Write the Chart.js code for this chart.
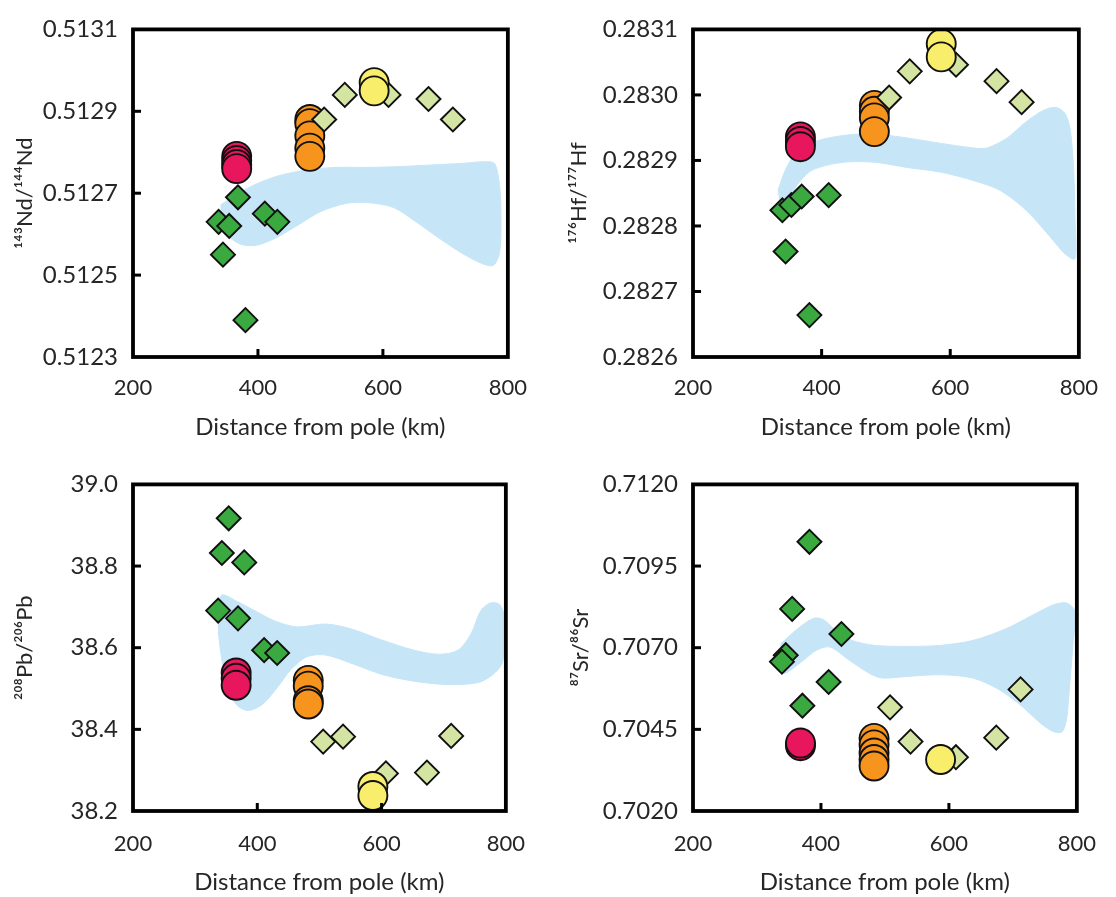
<!DOCTYPE html>
<html><head><meta charset="utf-8">
<script src="https://cdn.jsdelivr.net/npm/chart.js@4.4.0/dist/chart.umd.min.js"></script>
<style>
html,body{margin:0;padding:0;background:#fff;width:1116px;height:897px;overflow:hidden;}
.p{position:absolute;}
</style></head><body>
<div class="p" style="left:0;top:0;"><canvas id="c1" width="545" height="445"></canvas></div>
<div class="p" style="left:560px;top:0;"><canvas id="c2" width="556" height="445"></canvas></div>
<div class="p" style="left:0;top:455px;"><canvas id="c3" width="545" height="442"></canvas></div>
<div class="p" style="left:560px;top:455px;"><canvas id="c4" width="556" height="442"></canvas></div>
<script>
// ---------- shared ----------
const X_TICKS = [200, 400, 600, 800];
const X_TITLE = 'Distance from pole (km)';

// ---------- Nd panel ----------
const ND_TICKS = [0.5123, 0.5125, 0.5127, 0.5129, 0.5131];
const ND_TITLE = '¹⁴³Nd/¹⁴⁴Nd';
const ndDarkX = [337, 354, 368, 344, 411, 431, 380];
const ndDarkY = [0.51263, 0.51262, 0.51269, 0.51255, 0.51265, 0.51263, 0.51239];
const ndLightX = [506, 539, 609, 673, 712];
const ndLightY = [0.51288, 0.51294, 0.51294, 0.51293, 0.51288];
const ndRedX = [366, 366, 366, 366];
const ndRedY = [0.51279, 0.51278, 0.51277, 0.51276];
const ndOrangeX = [483, 483, 483, 483, 483];
const ndOrangeY = [0.51288, 0.51287, 0.51284, 0.51281, 0.51279];
const ndYellowX = [586, 586];
const ndYellowY = [0.51297, 0.51295];
const ndBandX = [340,368,398,434,480,525,576,627,678,728,764,779,787,789,787,777,759,728,693,652,617,576,541,500,465,429,398,373,353,340];
const ndBandY = [0.512671,0.512699,0.512723,0.512743,0.512757,0.512763,0.512763,0.512765,0.512769,0.512773,0.512777,0.512772,0.512715,0.512635,0.512556,0.512524,0.512528,0.512552,0.512587,0.512631,0.512665,0.512677,0.512675,0.512655,0.512623,0.512591,0.512573,0.512575,0.512595,0.512627];

// ---------- Hf panel ----------
const HF_TICKS = [0.2826, 0.2827, 0.2828, 0.2829, 0.2830, 0.2831];
const HF_TITLE = '¹⁷⁶Hf/¹⁷⁷Hf';
const hfDarkX = [339, 353, 369, 411, 344, 381];
const hfDarkY = [0.282824, 0.282832, 0.282845, 0.282847, 0.282761, 0.282664];
const hfLightX = [505, 537, 609, 672, 711];
const hfLightY = [0.282996, 0.283036, 0.283046, 0.283021, 0.282989];
const hfRedX = [367, 367, 367];
const hfRedY = [0.282936, 0.282929, 0.282921];
const hfOrangeX = [482, 482, 482, 482];
const hfOrangeY = [0.282984, 0.282975, 0.282965, 0.282944];
const hfYellowX = [586, 586];
const hfYellowY = [0.283078, 0.283058];
const hfBandX = [332,343,358,383,414,454,495,535,586,637,657,688,718,744,764,779,787,792,794,794,779,754,718,678,637,586,535,485,444,414,383,363,348,335];
const hfBandY = [0.282854,0.282884,0.282909,0.282926,0.282935,0.28294,0.282939,0.282934,0.282926,0.282919,0.282919,0.282934,0.282959,0.282976,0.282981,0.282971,0.282944,0.282884,0.282809,0.28275,0.282757,0.282785,0.282824,0.282854,0.282869,0.282882,0.282889,0.282897,0.282898,0.282894,0.282884,0.282864,0.282839,0.282829];

// ---------- Pb panel ----------
const PB_TICKS = [38.2, 38.4, 38.6, 38.8, 39.0];
const PB_TITLE = '²⁰⁸Pb/²⁰⁶Pb';
const pbDarkX = [354, 343, 379, 337, 369, 411, 432];
const pbDarkY = [38.917, 38.832, 38.809, 38.691, 38.672, 38.594, 38.587];
const pbLightX = [506, 538, 607, 673, 712];
const pbLightY = [38.370, 38.382, 38.292, 38.294, 38.384];
const pbRedX = [366, 366, 366];
const pbRedY = [38.538, 38.525, 38.508];
const pbOrangeX = [482, 482, 482, 482];
const pbOrangeY = [38.520, 38.506, 38.470, 38.462];
const pbYellowX = [586, 586];
const pbYellowY = [38.260, 38.238];
const pbBandX = [335,343,368,398,429,464,510,551,602,652,693,723,744,759,774,789,797,798,794,779,754,703,652,602,551,510,480,454,434,409,386,368,353,343,337];
const pbBandY = [38.689,38.729,38.713,38.689,38.665,38.651,38.658,38.646,38.618,38.594,38.584,38.594,38.634,38.689,38.709,38.707,38.681,38.61,38.562,38.534,38.514,38.51,38.518,38.534,38.562,38.582,38.578,38.546,38.506,38.462,38.446,38.458,38.498,38.57,38.64];

// ---------- Sr panel ----------
const SR_TICKS = [0.7020, 0.7045, 0.7070, 0.7095, 0.7120];
const SR_TITLE = '⁸⁷Sr/⁸⁶Sr';
const srDarkX = [382, 355, 432, 345, 339, 412, 371];
const srDarkY = [0.710243, 0.708188, 0.70742, 0.70677, 0.70657, 0.70595, 0.705224];
const srLightX = [508, 540, 611, 674, 712];
const srLightY = [0.705174, 0.704126, 0.703647, 0.704246, 0.705722];
const srRedX = [368, 368];
const srRedY = [0.70400, 0.70408];
const srOrangeX = [483, 483, 483, 483, 483];
const srOrangeY = [0.704225, 0.704026, 0.703776, 0.703577, 0.703377];
const srYellowX = [587];
const srYellowY = [0.703577];
const srBandX = [337,363,388,403,424,449,485,535,586,637,688,728,764,784,797,794,789,784,777,764,744,713,678,637,586,535,495,475,444,414,393,373,353,343,335];
const srBandY = [0.70712,0.707569,0.707898,0.707868,0.707519,0.70722,0.70707,0.70704,0.70707,0.70722,0.707569,0.707968,0.708317,0.708367,0.708118,0.70712,0.705922,0.704824,0.704425,0.704425,0.704675,0.705224,0.705722,0.706072,0.706171,0.706122,0.706072,0.706222,0.70662,0.70702,0.70692,0.70662,0.70632,0.706222,0.70647];

// ---------- drawing ----------
const FONT = "Lato, 'DejaVu Sans', sans-serif";
const TXT = '#262626';
const pts = (xs, ys) => xs.map((x, i) => ({x: x, y: ys[i]}));

const framePlugin = {
  id: 'frame',
  afterDatasetsDraw(chart) {
    const {ctx, chartArea: a, scales} = chart;
    const x = scales.x, y = scales.y;
    ctx.save();
    ctx.strokeStyle = '#000';
    ctx.lineWidth = 3;
    y.ticks.forEach(t => {
      const py = y.getPixelForValue(t.value);
      if (py > a.top + 3 && py < a.bottom - 3) {
        ctx.beginPath(); ctx.moveTo(a.left, py); ctx.lineTo(a.left + 8, py); ctx.stroke();
      }
    });
    x.ticks.forEach(t => {
      const px = x.getPixelForValue(t.value);
      if (px > a.left + 3 && px < a.right - 3) {
        ctx.beginPath(); ctx.moveTo(px, a.bottom); ctx.lineTo(px, a.bottom - 8); ctx.stroke();
      }
    });
    ctx.lineWidth = 3.8;
    ctx.strokeRect(a.left, a.top, a.right - a.left, a.bottom - a.top);
    ctx.restore();
  }
};

function scatterSet(label, xs, ys, style, radius, color, order) {
  return {
    label: label, data: pts(xs, ys), pointStyle: style, pointRadius: radius,
    pointHoverRadius: radius, backgroundColor: color, borderColor: '#111',
    borderWidth: 1.9, order: order
  };
}

function makePanel(id, o) {
  new Chart(document.getElementById(id), {
    type: 'scatter',
    data: {
      datasets: [
        {label: 'band', data: pts(o.bandX, o.bandY), showLine: true, fill: 'shape',
         backgroundColor: '#c6e6f8', borderColor: '#c6e6f8', borderWidth: 1,
         pointRadius: 0, pointHoverRadius: 0, tension: 0.3, order: 10},
        scatterSet('dark', o.darkX, o.darkY, 'rectRot', 12, '#3aaa40', 5),
        scatterSet('red', o.redX, o.redY, 'circle', 14.5, '#e8175d', 4),
        scatterSet('orange', o.orangeX, o.orangeY, 'circle', 14.5, '#f7941d', 3),
        scatterSet('light', o.lightX, o.lightY, 'rectRot', 12, '#d4e4a2', 2),
        scatterSet('yellow', o.yellowX, o.yellowY, 'circle', 14.5, '#f8ee6b', 1)
      ]
    },
    options: {
      responsive: false, animation: false, events: [],
      layout: {padding: {left: 0, top: 22, right: o.padRight, bottom: 0}},
      plugins: {legend: {display: false}, tooltip: {enabled: false}},
      scales: {
        x: {
          type: 'linear', min: 200, max: 800,
          afterBuildTicks: s => { s.ticks = X_TICKS.map(v => ({value: v})); },
          afterFit: s => { s.height = o.xHeight; },
          grid: {display: false, drawTicks: false}, border: {display: false},
          ticks: {padding: o.xLabelPad, autoSkip: false, maxRotation: 0, color: TXT,
                  font: {family: FONT, size: 22}, callback: v => String(v)},
          title: {display: true, text: X_TITLE, color: TXT,
                  font: {family: FONT, size: 24}, padding: {top: 0, bottom: o.xTitlePad}}
        },
        y: {
          type: 'linear', min: o.ticks[0], max: o.ticks[o.ticks.length - 1],
          afterBuildTicks: s => { s.ticks = o.ticks.map(v => ({value: v})); },
          afterFit: s => { s.width = 133; },
          grid: {display: false, drawTicks: false}, border: {display: false},
          ticks: {padding: 15, autoSkip: false, color: TXT,
                  font: {family: FONT, size: 24}, callback: v => v.toFixed(o.dec)},
          title: {display: true, text: o.title, color: TXT,
                  font: {family: FONT, size: 22}, padding: {top: o.yTitlePad, bottom: 0}}
        }
      }
    },
    plugins: [framePlugin]
  });
}

makePanel('c1', {ticks: ND_TICKS, dec: 4, title: ND_TITLE, padRight: 18, xHeight: 88, xLabelPad: 18, xTitlePad: 3.5, yTitlePad: 12,
  darkX: ndDarkX, darkY: ndDarkY, lightX: ndLightX, lightY: ndLightY, redX: ndRedX, redY: ndRedY,
  orangeX: ndOrangeX, orangeY: ndOrangeY, yellowX: ndYellowX, yellowY: ndYellowY, bandX: ndBandX, bandY: ndBandY});
makePanel('c2', {ticks: HF_TICKS, dec: 4, title: HF_TITLE, padRight: 29, xHeight: 88, xLabelPad: 18, xTitlePad: 3.5, yTitlePad: 6,
  darkX: hfDarkX, darkY: hfDarkY, lightX: hfLightX, lightY: hfLightY, redX: hfRedX, redY: hfRedY,
  orangeX: hfOrangeX, orangeY: hfOrangeY, yellowX: hfYellowX, yellowY: hfYellowY, bandX: hfBandX, bandY: hfBandY});
makePanel('c3', {ticks: PB_TICKS, dec: 1, title: PB_TITLE, padRight: 18, xHeight: 86, xLabelPad: 20, xTitlePad: 0.5, yTitlePad: 12,
  darkX: pbDarkX, darkY: pbDarkY, lightX: pbLightX, lightY: pbLightY, redX: pbRedX, redY: pbRedY,
  orangeX: pbOrangeX, orangeY: pbOrangeY, yellowX: pbYellowX, yellowY: pbYellowY, bandX: pbBandX, bandY: pbBandY});
makePanel('c4', {ticks: SR_TICKS, dec: 4, title: SR_TITLE, padRight: 29, xHeight: 86, xLabelPad: 20, xTitlePad: 0.5, yTitlePad: 8,
  darkX: srDarkX, darkY: srDarkY, lightX: srLightX, lightY: srLightY, redX: srRedX, redY: srRedY,
  orangeX: srOrangeX, orangeY: srOrangeY, yellowX: srYellowX, yellowY: srYellowY, bandX: srBandX, bandY: srBandY});
</script>
</body></html>
